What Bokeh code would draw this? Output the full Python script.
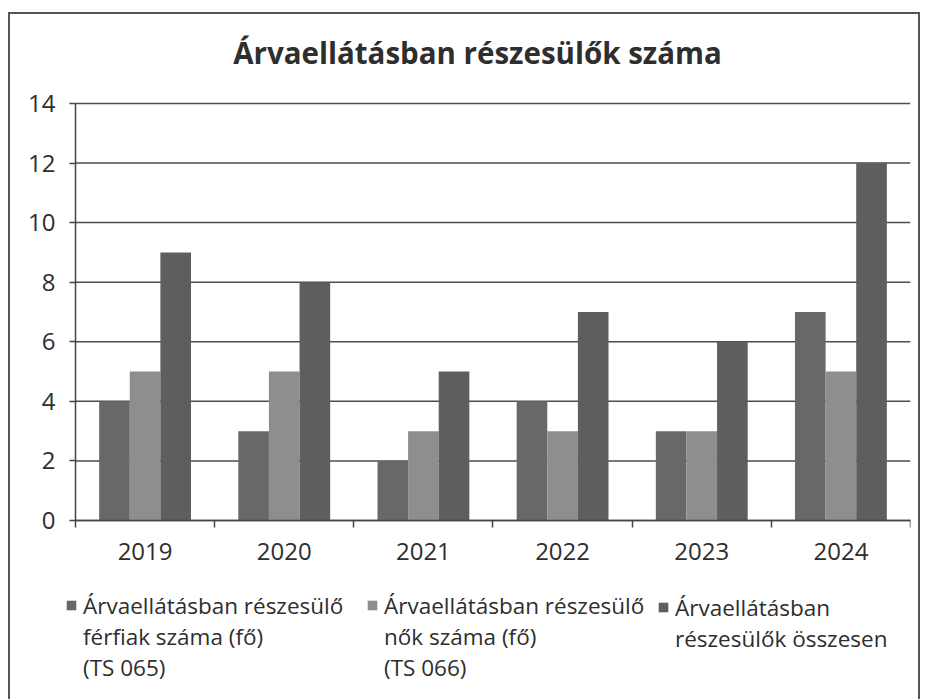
from bokeh.plotting import figure
from bokeh.models import ColumnDataSource, FixedTicker, Label, Legend, LegendItem, Range1d
from bokeh.transform import dodge
from bokeh.embed import file_html
from bokeh.resources import INLINE

# ---- data ----
years = ["2019", "2020", "2021", "2022", "2023", "2024"]
men = [4, 3, 2, 4, 3, 7]          # férfiak (TS 065)
women = [5, 5, 3, 3, 3, 5]        # nők (TS 066)
total = [9, 8, 5, 7, 6, 12]       # összesen
y_ticks = [0, 2, 4, 6, 8, 10, 12, 14]
series_labels = [
    "Árvaellátásban részesülő\nférfiak száma (fő)\n(TS 065)",
    "Árvaellátásban részesülő\nnők száma (fő)\n(TS 066)",
    "Árvaellátásban\nrészesülők összesen",
]
title_text = "Árvaellátásban részesülők száma"

colors = ["#686868", "#8e8e8e", "#5e5e5e"]
FONT = "Open Sans"
TXT = "#2e2e2e"
AX = "#444444"

n = len(years)
xpos = [i + 0.5 for i in range(n)]
src = ColumnDataSource(dict(x=xpos, men=men, women=women, total=total))
grid_src = ColumnDataSource(dict(y=y_ticks, x0=[0] * len(y_ticks), x1=[n] * len(y_ticks)))

# The plot frame covers the whole chart box; both axes sit at fixed data locations
# (x=0 and y=0) so that title and legend can live inside the frame.
p = figure(width=926, height=699, x_range=Range1d(-0.467, n), y_range=Range1d(-6.01, 16.92),
           output_backend="svg", toolbar_location=None,
           min_border_left=10, min_border_right=16, min_border_top=16, min_border_bottom=0)
p.border_fill_color = None
p.background_fill_color = None
p.outline_line_color = None
p.grid.grid_line_color = None
# outer frame of the chart (left, top and right edges)
p.styles = {"box-shadow": "inset 8px 0 0 0 white, inset 0 12px 0 0 white, inset -6px 0 0 0 white, "
                          "inset 10px 0 0 0 #555555, inset 0 14px 0 0 #555555, inset -8px 0 0 0 #555555"}

# horizontal grid lines at the y ticks
p.segment(x0="x0", x1="x1", y0="y", y1="y", source=grid_src, line_color="#4d4d4d", line_width=1.5)

bw = 0.22
fields = ["men", "women", "total"]
offsets = [-bw, 0, bw]
rends = []
for f, off, c in zip(fields, offsets, colors):
    rends.append(p.vbar(x=dodge("x", off, range=p.x_range), top=f, width=bw, source=src,
                        fill_color=c, line_color=None))
# transparent stand-in used for the continuation lines of the legend labels
blank = p.vbar(x="x", top="men", width=bw, source=src, fill_alpha=0, line_alpha=0)

# chart title (inside the chart box, screen units from the frame's bottom-left)
p.add_layout(Label(x=467, y=647, x_units="screen", y_units="screen", text=title_text,
                   text_font=FONT, text_font_size="29.5px", text_font_style="bold",
                   text_color=TXT, text_align="center", text_baseline="alphabetic"))

# y axis at x = 0
ya = p.yaxis[0]
ya.fixed_location = 0
ya.bounds = (0, 14)
ya.ticker = FixedTicker(ticks=y_ticks)
ya.axis_line_color = AX
ya.axis_line_width = 1.5
ya.major_tick_line_color = AX
ya.major_tick_line_width = 1.5
ya.major_tick_out = 6
ya.major_tick_in = 0
ya.minor_tick_line_color = None
ya.major_label_text_font = FONT
ya.major_label_text_font_size = "24px"
ya.major_label_text_color = TXT
ya.major_label_standoff = 14

# x axis at y = 0 (ticks between the years)
xa = p.xaxis[0]
xa.fixed_location = 0
xa.bounds = (0, n)
xa.ticker = FixedTicker(ticks=xpos, minor_ticks=list(range(n + 1)))
xa.major_label_overrides = {v: y for v, y in zip(xpos, years)}
xa.axis_line_color = AX
xa.axis_line_width = 1.5
xa.major_tick_line_color = None
xa.major_tick_out = 0
xa.major_tick_in = 0
xa.minor_tick_line_color = AX
xa.minor_tick_line_width = 1.5
xa.minor_tick_out = 7
xa.minor_tick_in = 0
xa.major_label_text_font = FONT
xa.major_label_text_font_size = "24px"
xa.major_label_text_color = TXT
xa.major_label_standoff = 16

# ---- legend: one block per series, swatch on the first line ----
ROW = 29
leg_x = [55, 356, 647]
for lab, r, lx in zip(series_labels, rends, leg_x):
    lines = lab.split("\n")
    items = [LegendItem(label=lines[0], renderers=[r])]
    items += [LegendItem(label=ln, renderers=[blank]) for ln in lines[1:]]
    ly = 103.5 - ROW * len(lines)
    lg = Legend(items=items, location=(lx, ly), orientation="vertical",
                glyph_width=12, glyph_height=12, label_standoff=6, label_height=ROW,
                spacing=0, padding=0, margin=0, border_line_color=None,
                background_fill_alpha=0, label_text_font=FONT, label_text_font_size="22.5px",
                label_text_color=TXT)
    p.add_layout(lg)

open("out.html", "w").write(file_html(p, INLINE))
